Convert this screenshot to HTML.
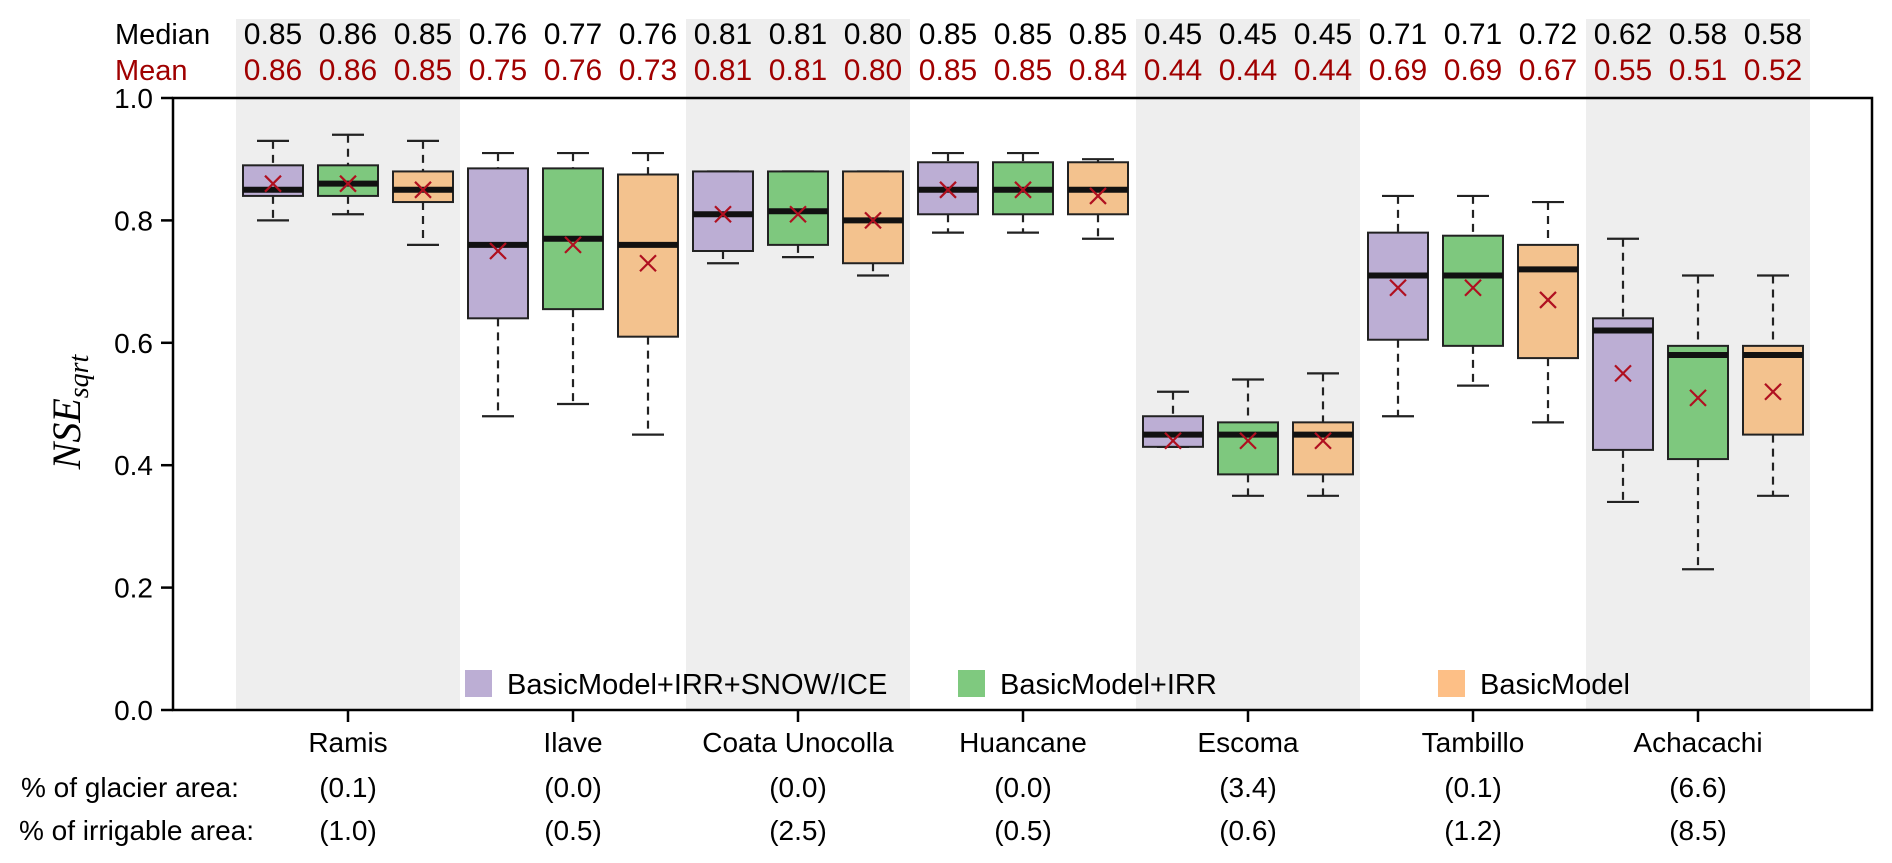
<!DOCTYPE html>
<html><head><meta charset="utf-8"><style>
html,body{margin:0;padding:0;background:#fff;}
svg{display:block;font-family:"Liberation Sans",Arial,sans-serif;}
</style></head><body>
<svg id="chart" width="1892" height="863" viewBox="0 0 1892 863" xmlns="http://www.w3.org/2000/svg"></svg>
<script>
const catchments = ["Ramis","Ilave","Coata Unocolla","Huancane","Escoma","Tambillo","Achacachi"];
const glacierPct = ["(0.1)","(0.0)","(0.0)","(0.0)","(3.4)","(0.1)","(6.6)"];
const irrigPct = ["(1.0)","(0.5)","(2.5)","(0.5)","(0.6)","(1.2)","(8.5)"];
const models = ["BasicModel+IRR+SNOW/ICE","BasicModel+IRR","BasicModel"];
const whiskLo = [[0.80,0.48,0.73,0.78,0.43,0.48,0.34],[0.81,0.50,0.74,0.78,0.35,0.53,0.23],[0.76,0.45,0.71,0.77,0.35,0.47,0.35]];
const q1 = [[0.84,0.64,0.75,0.81,0.43,0.605,0.425],[0.84,0.655,0.76,0.81,0.385,0.595,0.41],[0.83,0.61,0.73,0.81,0.385,0.575,0.45]];
const medians = [[0.85,0.76,0.81,0.85,0.45,0.71,0.62],[0.86,0.77,0.815,0.85,0.45,0.71,0.58],[0.85,0.76,0.80,0.85,0.45,0.72,0.58]];
const q3 = [[0.89,0.885,0.88,0.895,0.48,0.78,0.64],[0.89,0.885,0.88,0.895,0.47,0.775,0.595],[0.88,0.875,0.88,0.895,0.47,0.76,0.595]];
const whiskHi = [[0.93,0.91,0.88,0.91,0.52,0.84,0.77],[0.94,0.91,0.88,0.91,0.54,0.84,0.71],[0.93,0.91,0.88,0.90,0.55,0.83,0.71]];
const means = [[0.86,0.75,0.81,0.85,0.44,0.69,0.55],[0.86,0.76,0.81,0.85,0.44,0.69,0.51],[0.85,0.73,0.80,0.84,0.44,0.67,0.52]];
const medianLabels = [["0.85","0.76","0.81","0.85","0.45","0.71","0.62"],["0.86","0.77","0.81","0.85","0.45","0.71","0.58"],["0.85","0.76","0.80","0.85","0.45","0.72","0.58"]];
const meanLabels = [["0.86","0.75","0.81","0.85","0.44","0.69","0.55"],["0.86","0.76","0.81","0.85","0.44","0.69","0.51"],["0.85","0.73","0.80","0.84","0.44","0.67","0.52"]];
const yTicks = [0.0,0.2,0.4,0.6,0.8,1.0];

const NS="http://www.w3.org/2000/svg";
const svg=document.getElementById('chart');
const X0=173, X1=1872, Y0=710, Y1=98;
const y = v => Y0 - (v)*(Y0-Y1);
const gx = i => 348 + 225*i;
const off = [-75,0,75];
const fills=["#bcaed4","#7ec87e","#f3c28e"];
const legFills=["#bcaed4","#7fc97f","#fdbf86"];
function el(tag,attrs,parent){const e=document.createElementNS(NS,tag);for(const k in attrs)e.setAttribute(k,attrs[k]);(parent||svg).appendChild(e);return e;}

catchments.forEach((c,i)=>{ if(i%2===0){
  const r=el('rect',{x:gx(i)-112,y:19,width:224,height:Y0-19,fill:'#eeeeee'});
  
  
}});
let t=el('text',{x:115,y:44,'font-size':29,fill:'#000'});t.textContent='Median';


t=el('text',{x:115,y:80,'font-size':29,fill:'#a00000'});t.textContent='Mean';


const frame=el('rect',{x:X0,y:Y1,width:X1-X0,height:Y0-Y1,fill:'none',stroke:'#000','stroke-width':2.5});


yTicks.forEach(v=>{
  el('line',{x1:X0-12,x2:X0,y1:y(v),y2:y(v),stroke:'#000','stroke-width':2.5});
  const tl=el('text',{x:X0-20,y:y(v)+10,'font-size':28,'text-anchor':'end'});tl.textContent=v.toFixed(1);
  
  
});
const yt=el('text',{x:0,y:0,'font-size':40,'font-style':'italic','font-family':'"Liberation Serif",serif',transform:'translate(80,412) rotate(-90)','text-anchor':'middle'});
yt.innerHTML='NSE<tspan font-size="28" dy="8">sqrt</tspan>';



catchments.forEach((c,i)=>{
  el('line',{x1:gx(i),x2:gx(i),y1:Y0,y2:Y0+12,stroke:'#000','stroke-width':2.5});
  const xl=el('text',{x:gx(i),y:752,'font-size':28,'text-anchor':'middle'});xl.textContent=c;
  
  
  const g1=el('text',{x:gx(i),y:797,'font-size':28,'text-anchor':'middle'});g1.textContent=glacierPct[i];
  
  
  const g2=el('text',{x:gx(i),y:840,'font-size':28,'text-anchor':'middle'});g2.textContent=irrigPct[i];
  
  
  for(let m=0;m<3;m++){
    const cx=gx(i)+off[m];
    const g=el('g',{});
    
    
    el('line',{x1:cx,x2:cx,y1:y(whiskHi[m][i]),y2:y(q3[m][i]),stroke:'#222','stroke-width':2.2,'stroke-dasharray':'8,6'},g);
    el('line',{x1:cx,x2:cx,y1:y(q1[m][i]),y2:y(whiskLo[m][i]),stroke:'#222','stroke-width':2.2,'stroke-dasharray':'8,6'},g);
    el('line',{x1:cx-16,x2:cx+16,y1:y(whiskHi[m][i]),y2:y(whiskHi[m][i]),stroke:'#222','stroke-width':2.2},g);
    el('line',{x1:cx-16,x2:cx+16,y1:y(whiskLo[m][i]),y2:y(whiskLo[m][i]),stroke:'#222','stroke-width':2.2},g);
    el('rect',{x:cx-30,y:y(q3[m][i]),width:60,height:y(q1[m][i])-y(q3[m][i]),fill:fills[m],stroke:'#222','stroke-width':2},g);
    el('line',{x1:cx-30,x2:cx+30,y1:y(medians[m][i]),y2:y(medians[m][i]),stroke:'#111','stroke-width':6},g);
    const my=y(means[m][i]);
    el('path',{d:`M${cx-8},${my-8}L${cx+8},${my+8}M${cx-8},${my+8}L${cx+8},${my-8}`,stroke:'#b01020','stroke-width':2.2},g);
    const tm=el('text',{x:cx,y:44,'font-size':30,'text-anchor':'middle'});tm.textContent=medianLabels[m][i];
    
    
    const tn=el('text',{x:cx,y:80,'font-size':30,'text-anchor':'middle',fill:'#a00000'});tn.textContent=meanLabels[m][i];
    
    
  }
});
t=el('text',{x:21,y:797,'font-size':28});t.textContent='% of glacier area:';


t=el('text',{x:19,y:840,'font-size':28});t.textContent='% of irrigable area:';


const legX=[465,958,1438];
models.forEach((m,k)=>{
  const g=el('g',{});
  
  
  el('rect',{x:legX[k],y:670,width:27,height:27,fill:legFills[k]},g);
  const lt=el('text',{x:legX[k]+42,y:694,'font-size':29},g);lt.textContent=m;
});
</script>
</body></html>
